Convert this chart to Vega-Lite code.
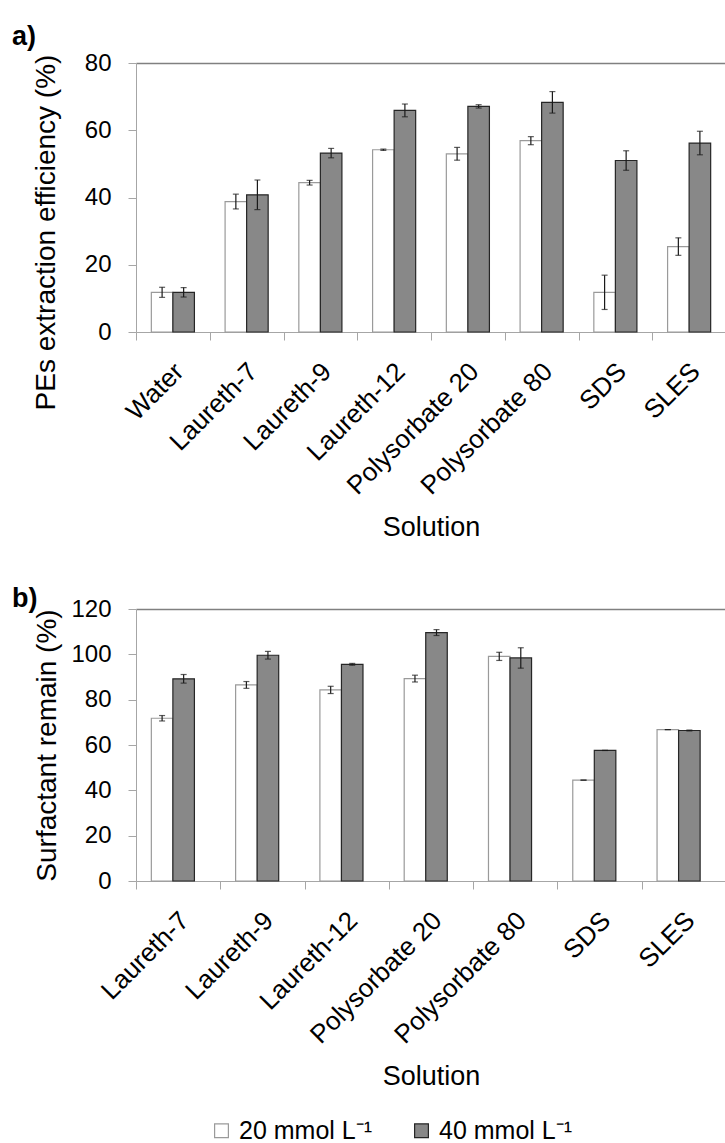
{
  "$schema": "https://vega.github.io/schema/vega-lite/v6.json",
  "background": "white",
  "padding": {"left": 12, "top": 23, "right": 0, "bottom": 0},
  "config": {
    "font": "Liberation Sans",
    "view": {"stroke": null},
    "axis": {
      "labelFont": "Liberation Sans",
      "titleFont": "Liberation Sans",
      "labelColor": "black",
      "titleColor": "black",
      "titleFontWeight": "normal",
      "domainColor": "#a6a6a6",
      "tickColor": "#a6a6a6",
      "tickSize": 8,
      "labelFontSize": 24,
      "titleFontSize": 27
    },
    "axisX": {
      "labelFontSize": 26,
      "tickBand": "extent",
      "grid": false,
      "titleBaseline": "alphabetic",
      "titleY": 203
    },
    "axisY": {
      "grid": true,
      "gridWidth": 1.5,
      "labelPadding": 17,
      "titleFontSize": 28,
      "titleAngle": 270,
      "titleAlign": "center",
      "titleBaseline": "alphabetic"
    },
    "title": {"font": "Liberation Sans", "fontSize": 27, "fontWeight": "bold", "color": "black", "anchor": "start", "frame": "group", "baseline": "alphabetic"}
  },
  "datasets": {
    "extraction": [
      {"solution": "Water", "conc": "20 mmol L⁻¹", "value": 11.8, "sd": 1.5},
      {"solution": "Water", "conc": "40 mmol L⁻¹", "value": 11.8, "sd": 1.4},
      {"solution": "Laureth-7", "conc": "20 mmol L⁻¹", "value": 38.8, "sd": 2.2},
      {"solution": "Laureth-7", "conc": "40 mmol L⁻¹", "value": 40.8, "sd": 4.4},
      {"solution": "Laureth-9", "conc": "20 mmol L⁻¹", "value": 44.4, "sd": 0.7},
      {"solution": "Laureth-9", "conc": "40 mmol L⁻¹", "value": 53.2, "sd": 1.4},
      {"solution": "Laureth-12", "conc": "20 mmol L⁻¹", "value": 54.2, "sd": 0.2},
      {"solution": "Laureth-12", "conc": "40 mmol L⁻¹", "value": 65.9, "sd": 1.9},
      {"solution": "Polysorbate 20", "conc": "20 mmol L⁻¹", "value": 53.0, "sd": 1.9},
      {"solution": "Polysorbate 20", "conc": "40 mmol L⁻¹", "value": 67.1, "sd": 0.5},
      {"solution": "Polysorbate 80", "conc": "20 mmol L⁻¹", "value": 56.9, "sd": 1.2},
      {"solution": "Polysorbate 80", "conc": "40 mmol L⁻¹", "value": 68.3, "sd": 3.2},
      {"solution": "SDS", "conc": "20 mmol L⁻¹", "value": 11.8, "sd": 5.1},
      {"solution": "SDS", "conc": "40 mmol L⁻¹", "value": 51.0, "sd": 2.9},
      {"solution": "SLES", "conc": "20 mmol L⁻¹", "value": 25.4, "sd": 2.6},
      {"solution": "SLES", "conc": "40 mmol L⁻¹", "value": 56.2, "sd": 3.5}
    ],
    "remain": [
      {"solution": "Laureth-7", "conc": "20 mmol L⁻¹", "value": 71.8, "sd": 1.2},
      {"solution": "Laureth-7", "conc": "40 mmol L⁻¹", "value": 89.2, "sd": 1.9},
      {"solution": "Laureth-9", "conc": "20 mmol L⁻¹", "value": 86.5, "sd": 1.5},
      {"solution": "Laureth-9", "conc": "40 mmol L⁻¹", "value": 99.6, "sd": 1.7},
      {"solution": "Laureth-12", "conc": "20 mmol L⁻¹", "value": 84.3, "sd": 1.6},
      {"solution": "Laureth-12", "conc": "40 mmol L⁻¹", "value": 95.6, "sd": 0.4},
      {"solution": "Polysorbate 20", "conc": "20 mmol L⁻¹", "value": 89.3, "sd": 1.5},
      {"solution": "Polysorbate 20", "conc": "40 mmol L⁻¹", "value": 109.6, "sd": 1.3},
      {"solution": "Polysorbate 80", "conc": "20 mmol L⁻¹", "value": 99.1, "sd": 1.8},
      {"solution": "Polysorbate 80", "conc": "40 mmol L⁻¹", "value": 98.4, "sd": 4.5},
      {"solution": "SDS", "conc": "20 mmol L⁻¹", "value": 44.5, "sd": 0},
      {"solution": "SDS", "conc": "40 mmol L⁻¹", "value": 57.6, "sd": 0},
      {"solution": "SLES", "conc": "20 mmol L⁻¹", "value": 66.8, "sd": 0},
      {"solution": "SLES", "conc": "40 mmol L⁻¹", "value": 66.4, "sd": 0.2}
    ]
  },
  "bounds": "flush",
  "spacing": 277,
  "vconcat": [
    {
      "width": 590,
      "height": 269,
      "title": {"text": "a)", "dx": -124, "offset": 0},
      "data": {"name": "extraction"},
      "encoding": {
        "x": {
          "field": "solution", "type": "nominal", "sort": null,
          "scale": {"paddingInner": 0, "paddingOuter": 0},
          "axis": {"title": "Solution", "labelAngle": -45, "labelAlign": "right", "labelBaseline": "top", "labelPadding": 18, "labelOffset": -3}
        },
        "xOffset": {"field": "conc", "type": "nominal", "scale": {"paddingInner": 0, "paddingOuter": 0.712}},
        "y": {
          "field": "value", "type": "quantitative",
          "scale": {"domain": [0, 80], "nice": false},
          "axis": {
            "title": "PEs extraction efficiency (%)",
            "values": [0, 20, 40, 60, 80],
            "gridColor": {"condition": {"test": "datum.value === 80", "value": "#808080"}, "value": "transparent"},
            "titleX": -82,
            "titleY": 169
          }
        }
      },
      "layer": [
        {
          "mark": {"type": "bar", "strokeWidth": 1.2},
          "encoding": {
            "fill": {
              "field": "conc", "type": "nominal",
              "scale": {"range": ["#ffffff", "#888888"]},
              "legend": {
                "title": null, "orient": "none", "direction": "horizontal",
                "legendX": 73, "legendY": 1055,
                "symbolType": "square", "symbolSize": 190, "symbolStrokeWidth": 1.2,
                "labelFontSize": 25, "labelFont": "Liberation Sans", "labelColor": "black",
                "labelOffset": 5, "columnPadding": 36
              }
            },
            "stroke": {
              "field": "conc", "type": "nominal",
              "scale": {"range": ["#9a9a9a", "#262626"]}
            }
          }
        },
        {
          "mark": {"type": "errorbar", "color": "#1a1a1a", "thickness": 1.2, "ticks": {"size": 6}},
          "encoding": {"yError": {"field": "sd"}}
        }
      ]
    },
    {
      "width": 590,
      "height": 272,
      "title": {"text": "b)", "dx": -124, "offset": 0, "dy": 16},
      "data": {"name": "remain"},
      "encoding": {
        "x": {
          "field": "solution", "type": "nominal", "sort": null,
          "scale": {"paddingInner": 0, "paddingOuter": 0},
          "axis": {"title": "Solution", "labelAngle": -45, "labelAlign": "right", "labelBaseline": "top", "labelPadding": 18, "labelOffset": -3}
        },
        "xOffset": {"field": "conc", "type": "nominal", "scale": {"paddingInner": 0, "paddingOuter": 0.75}},
        "y": {
          "field": "value", "type": "quantitative",
          "scale": {"domain": [0, 120], "nice": false},
          "axis": {
            "title": "Surfactant remain (%)",
            "values": [0, 20, 40, 60, 80, 100, 120],
            "gridColor": {"condition": {"test": "datum.value === 120", "value": "#808080"}, "value": "transparent"},
            "titleX": -81,
            "titleY": 136
          }
        }
      },
      "layer": [
        {
          "mark": {"type": "bar", "strokeWidth": 1.2},
          "encoding": {
            "fill": {"field": "conc", "type": "nominal"},
            "stroke": {"field": "conc", "type": "nominal"}
          }
        },
        {
          "mark": {"type": "errorbar", "color": "#1a1a1a", "thickness": 1.2, "ticks": {"size": 6}},
          "encoding": {"yError": {"field": "sd"}}
        }
      ]
    }
  ]
}
